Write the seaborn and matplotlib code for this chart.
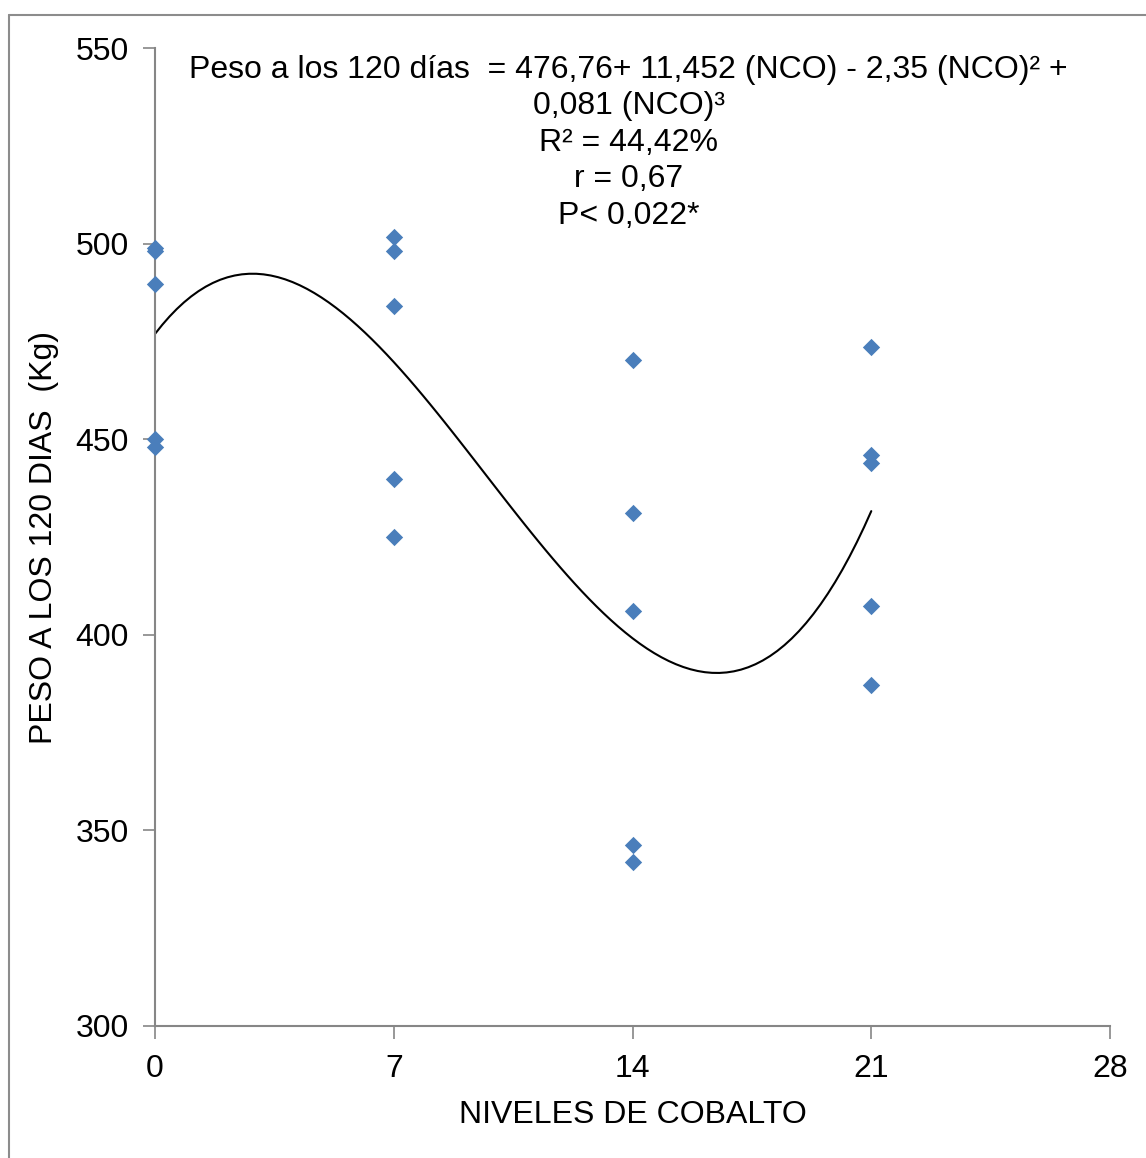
import numpy as np
import pandas as pd
import seaborn as sns
import matplotlib
matplotlib.use("Agg")
import matplotlib.pyplot as plt
from matplotlib.lines import Line2D

# niveles de cobalto y peso a los 120 dias
niveles = [0, 0, 0, 0, 0,
           7, 7, 7, 7, 7,
           14, 14, 14, 14, 14,
           21, 21, 21, 21, 21]
peso = [498.8, 498.2, 489.7, 450.0, 448.0,
        501.7, 498.1, 484.0, 439.8, 425.0,
        470.2, 431.1, 406.1, 346.3, 341.9,
        473.6, 446.0, 443.9, 407.4, 387.2]
x_ticks = [0, 7, 14, 21, 28]
y_ticks = [300, 350, 400, 450, 500, 550]

df = pd.DataFrame({"nco": niveles, "peso": peso})

sns.set_style("white")
plt.rcParams['font.family'] = ['Liberation Sans', 'DejaVu Sans']
plt.rcParams['text.color'] = 'black'
plt.rcParams['axes.labelcolor'] = 'black'

fig = plt.figure(figsize=(11.46, 11.58), dpi=100)
ax = fig.add_axes([0.1353, 0.114, 0.8333, 0.8445])

sns.regplot(data=df, x="nco", y="peso", order=3, ci=None, ax=ax,
            marker="D",
            scatter_kws={"s": 78, "color": "#4A7EBB", "clip_on": False,
                         "linewidths": 0, "alpha": 1, "zorder": 3},
            line_kws={"color": "black", "lw": 1.5, "zorder": 2})

ax.set_xlim(0, 28)
ax.set_ylim(300, 550)
ax.set_xticks(x_ticks)
ax.set_yticks(y_ticks)
ax.tick_params(axis="both", labelsize=23, length=9, width=1.2,
               color="#868686", labelcolor="black", direction="out",
               bottom=True, left=True)
ax.tick_params(axis="y", pad=10)
ax.tick_params(axis="x", pad=11)
for side in ["top", "right"]:
    ax.spines[side].set_visible(False)
for side in ["left", "bottom"]:
    ax.spines[side].set_color("#868686")
    ax.spines[side].set_linewidth(1.5)

ax.set_xlabel("NIVELES DE COBALTO", fontsize=23, labelpad=12)
ax.set_ylabel("PESO A LOS 120 DIAS  (Kg)", fontsize=23, labelpad=12)

texto = ("Peso a los 120 días  = 476,76+ 11,452 (NCO) - 2,35 (NCO)² +\n"
         "0,081 (NCO)³\n"
         "R² = 44,42%\n"
         "r = 0,67\n"
         "P< 0,022*")
ax.text(0.496, 0.903, texto, transform=ax.transAxes, ha="center",
        va="center", fontsize=23, linespacing=1.28)

# marco del grafico
fig.add_artist(Line2D([9 / 1146, 9 / 1146], [0, 1 - 15 / 1158],
                      color="#8c8c8c", lw=1.5, transform=fig.transFigure))
fig.add_artist(Line2D([9 / 1146, 1], [1 - 15 / 1158, 1 - 15 / 1158],
                      color="#8c8c8c", lw=1.5, transform=fig.transFigure))

fig.savefig("out.png", dpi=100)
